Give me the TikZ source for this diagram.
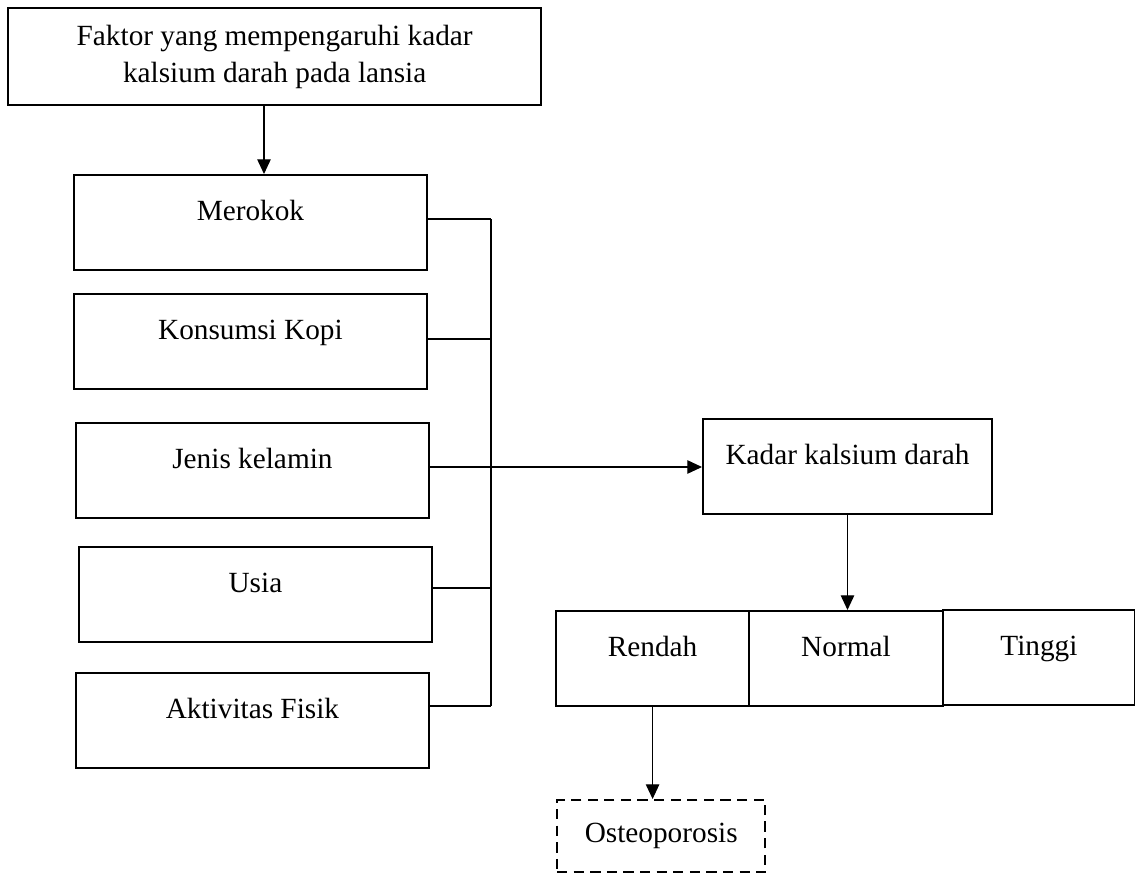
\documentclass[tikz,border=0pt]{standalone}
\usepackage{fontspec}
\setmainfont{Liberation Serif}
\usepackage{tikz}
\usetikzlibrary{arrows.meta, positioning, calc}

\begin{document}
\begin{tikzpicture}[
    x=0.0144cm, y=-0.0144cm,
    font=\fontsize{12}{15.2}\selectfont,
    box/.style={rectangle, draw=black, line width=0.9pt, anchor=north west, inner sep=0pt, text height=18.5pt, text depth=20.5pt, align=center},
    faktor/.style={box, minimum width=5.08cm},
    level/.style={box, minimum width=2.78cm},
    result/.style={rectangle, draw=black, line width=0.9pt, dash pattern=on 4.2pt off 2.6pt, anchor=north west, inner sep=0pt, minimum width=3.0cm, minimum height=1.04cm},
    line/.style={line width=0.5pt},
    arrow/.style={line width=0.5pt, -{Triangle[length=6pt,width=5.5pt]}}
]
\useasboundingbox (0,0) rectangle (1135,873);

% Judul
\node (judul) [draw=black, line width=0.9pt, anchor=north west, minimum width=7.68cm, minimum height=1.40cm, align=center] at (7,7) {Faktor yang mempengaruhi kadar\\kalsium darah pada lansia};

% Faktor
\node (merokok) [faktor] at (73,174) {Merokok};
\node (kopi) [faktor] at (73,293) {Konsumsi Kopi};
\node (kelamin) [faktor] at (75,422) {Jenis kelamin};
\node (usia) [faktor] at (78,546) {Usia};
\node (fisik) [faktor] at (75,672) {Aktivitas Fisik};

% Kadar kalsium
\node (kadar) [box, minimum width=4.16cm] at (702,418) {Kadar kalsium darah};
\node (rendah) [level] at (555,610) {Rendah};
\node (normal) [level, minimum width=2.79cm] at (748,610) {Normal};
\node (tinggi) [level, minimum width=2.76cm] at (942,609) {Tinggi};
\node (osteo) [result] at (556,799) {Osteoporosis};

% Garis penghubung
\coordinate (a1) at (264,0);
\coordinate (b1) at (491,219);
\coordinate (b2) at (491,339);
\coordinate (b3) at (491,467);
\coordinate (b4) at (491,588);
\coordinate (b5) at (491,706);

\draw [arrow] (judul.south -| a1) -- (merokok.north -| a1);
\draw [line] (merokok.east |- b1) -- (b1);
\draw [line] (kopi.east |- b2) -- (b2);
\draw [line] (usia.east |- b4) -- (b4);
\draw [line] (fisik.east |- b5) -- (b5);
\draw [line] (b1) -- (b5);
\draw [arrow] (kelamin.east |- b3) -- (kadar.west |- b3);

\draw [arrow] (kadar.south) -- (kadar.south |- normal.north);
\draw [arrow] (rendah.south) -- (rendah.south |- osteo.north);

\end{tikzpicture}
\end{document}
